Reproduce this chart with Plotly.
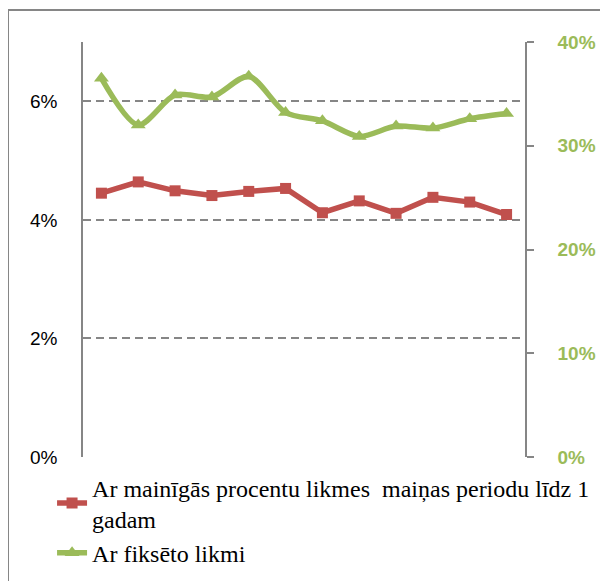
import plotly.graph_objects as go

# data
periods = list(range(12))
variable_rate = [4.45, 4.64, 4.49, 4.41, 4.48, 4.53, 4.12, 4.32, 4.11, 4.38, 4.30, 4.09]
fixed_rate = [36.5, 32.0, 34.9, 34.7, 36.7, 33.2, 32.4, 30.9, 31.9, 31.7, 32.6, 33.1]
left_ticks = [0, 2, 4, 6]
right_ticks = [0, 10, 20, 30, 40]

red = "#C0504D"
green = "#9BBB59"
gray = "#868686"

fig = go.Figure()
fig.add_trace(go.Scatter(
    x=periods, y=variable_rate, mode="lines+markers",
    name="Ar mainīgās procentu likmes  maiņas periodu līdz 1<br>gadam",
    line=dict(color=red, width=5.5),
    marker=dict(symbol="square", size=11, color=red),
))
fig.add_trace(go.Scatter(
    x=periods, y=fixed_rate, mode="lines+markers", yaxis="y2",
    name="Ar fiksēto likmi",
    line=dict(color=green, width=5.5, shape="spline", smoothing=0.8),
    marker=dict(symbol="triangle-up", size=13, color=green),
))

# outer chart border (partly cut off, as in the reference)
fig.add_shape(type="rect", xref="paper", yref="paper",
              x0=-0.1697, x1=1.4, y0=-0.5, y1=1.077,
              line=dict(color=gray, width=2), layer="below")

# page body adds an 8px margin, so the figure is 8px smaller
fig.update_layout(
    width=600, height=573,
    margin=dict(l=75, r=83, t=34, b=123.5, autoexpand=False),
    paper_bgcolor="white", plot_bgcolor="white",
    font=dict(family="Liberation Sans", size=19, color="black"),
    showlegend=True,
    legend=dict(
        x=-0.07, y=-0.02, xanchor="left", yanchor="top",
        font=dict(family="Liberation Serif", size=24, color="black"),
        tracegroupgap=0, itemwidth=30,
        bgcolor="rgba(0,0,0,0)",
    ),
    xaxis=dict(
        range=[-0.5, 11.5], showticklabels=False, showgrid=False,
        zeroline=False, showline=False, ticks="", automargin=False,
    ),
    yaxis=dict(
        range=[0, 7], tickvals=left_ticks,
        ticktext=[f"{v}%" for v in left_ticks],
        showgrid=True, gridcolor=gray, gridwidth=1.5, griddash="8px,5px",
        zeroline=False, showline=True, linecolor=gray, linewidth=1.5,
        ticks="", ticklabelstandoff=20, automargin=False,
        tickfont=dict(family="Liberation Sans", size=19, color="black"),
    ),
    yaxis2=dict(
        range=[0, 40], tickvals=right_ticks,
        ticktext=[f"{v}%" for v in right_ticks],
        overlaying="y", side="right", showgrid=False, zeroline=False,
        showline=True, linecolor=gray, linewidth=1.5,
        ticks="outside", ticklen=7, tickcolor=gray, tickwidth=1.5,
        ticklabelstandoff=20, automargin=False,
        tickfont=dict(family="Liberation Sans", size=19, color=green, weight="bold"),
    ),
)

fig.write_html("out.html")
